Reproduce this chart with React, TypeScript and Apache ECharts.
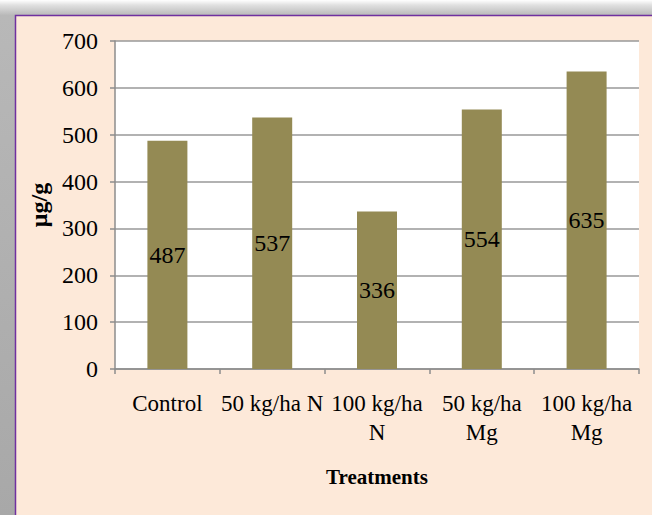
import React, { useEffect, useRef } from "react";
import * as echarts from "echarts";

const categories = ["Control", "50 kg/ha N", "100 kg/ha\nN", "50 kg/ha\nMg", "100 kg/ha\nMg"];
const values = [487, 537, 336, 554, 635];
const yTicks = { min: 0, max: 700, interval: 100 };

const FONT = "'Liberation Serif', 'Times New Roman', serif";

export default function App() {
  const ref = useRef<HTMLDivElement>(null);
  useEffect(() => {
    if (!ref.current) return;
    const chart = echarts.init(ref.current, null, { renderer: "svg" });
    chart.setOption({
      animation: false,
      backgroundColor: "#ffffff",
      textStyle: { fontFamily: FONT },
      graphic: [
        {
          type: "rect",
          z: -10,
          silent: true,
          shape: { x: 0, y: 0, width: 652, height: 515 },
          style: {
            fill: new echarts.graphic.LinearGradient(0, 0, 0, 1, [
              { offset: 0, color: "#ffffff" },
              { offset: 0.01, color: "#e0e0e0" },
              { offset: 0.03, color: "#b8b8b8" },
              { offset: 1, color: "#a8a8a8" },
            ]),
          },
        },
        {
          type: "rect",
          z: -9,
          silent: true,
          shape: { x: 15.5, y: 15.5, width: 660, height: 520 },
          style: { fill: "#fde9d9", stroke: "#7030a0", lineWidth: 1.5 },
        },
      ],
      grid: { left: 115, right: 13, top: 41, bottom: 146, backgroundColor: "#ffffff", show: true, borderWidth: 0 },
      xAxis: {
        type: "category",
        data: categories,
        name: "Treatments",
        nameLocation: "middle",
        nameGap: 97,
        nameTextStyle: { fontFamily: FONT, fontWeight: "bold", fontSize: 21, color: "#000" },
        axisLine: { lineStyle: { color: "#8c8c8c", width: 1.5 } },
        axisTick: { show: true, alignWithLabel: false, length: 5, lineStyle: { color: "#8c8c8c", width: 1.5 } },
        axisLabel: { fontFamily: FONT, fontSize: 23, color: "#000", margin: 20, lineHeight: 29, interval: 0 },
      },
      yAxis: {
        type: "value",
        min: yTicks.min,
        max: yTicks.max,
        interval: yTicks.interval,
        name: "μg/g",
        nameLocation: "middle",
        nameGap: 60,
        nameRotate: 90,
        nameTextStyle: { fontFamily: FONT, fontWeight: "bold", fontSize: 24, color: "#000" },
        axisLine: { show: true, lineStyle: { color: "#8c8c8c", width: 1.5 } },
        axisTick: { show: true, length: 5, lineStyle: { color: "#8c8c8c", width: 1.5 } },
        axisLabel: { fontFamily: FONT, fontSize: 24, color: "#000", margin: 17 },
        splitLine: { lineStyle: { color: "#999999", width: 1.5 } },
      },
      series: [
        {
          type: "bar",
          data: values,
          barWidth: 40,
          itemStyle: { color: "#948a54" },
          label: { show: true, position: "inside", color: "#000", fontFamily: FONT, fontSize: 24 },
        },
      ],
    });
    return () => chart.dispose();
  }, []);
  return <div ref={ref} style={{ position: "fixed", left: 0, top: 0, width: 652, height: 515 }} />;
}
